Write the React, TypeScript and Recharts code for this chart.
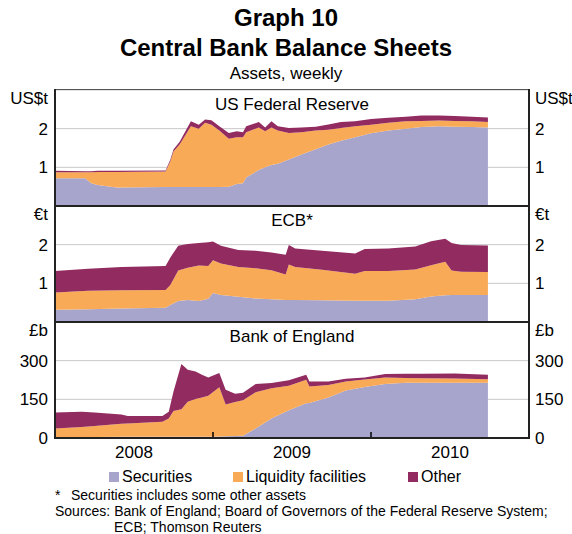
import { Area, AreaChart, CartesianGrid, XAxis, YAxis } from "recharts";

// dates as decimal years
const usDates = [
  2008.0, 2008.19, 2008.23, 2008.27, 2008.39, 2008.7, 2008.73, 2008.75, 2008.79,
  2008.86, 2008.91, 2008.95, 2008.99, 2009.04, 2009.1, 2009.15, 2009.19, 2009.21,
  2009.29, 2009.33, 2009.37, 2009.41, 2009.48, 2009.56, 2009.65, 2009.73, 2009.81,
  2009.9, 2010.0, 2010.11, 2010.22, 2010.32, 2010.43, 2010.53, 2010.64, 2010.74,
];
const usSecurities = [
  0.72, 0.72, 0.59, 0.54, 0.48, 0.49, 0.49, 0.49, 0.49, 0.49, 0.49, 0.49, 0.49,
  0.49, 0.5, 0.57, 0.59, 0.74, 0.93, 1.0, 1.06, 1.09, 1.2, 1.33, 1.47, 1.59, 1.69,
  1.78, 1.88, 1.95, 2.0, 2.04, 2.06, 2.05, 2.04, 2.03,
];
const usLiquidity = [
  0.15, 0.15, 0.28, 0.34, 0.4, 0.4, 0.67, 0.92, 1.11, 1.57, 1.51, 1.66, 1.61, 1.46,
  1.24, 1.21, 1.19, 1.17, 1.1, 0.93, 0.97, 0.86, 0.69, 0.58, 0.48, 0.38, 0.33, 0.28,
  0.22, 0.2, 0.19, 0.16, 0.15, 0.15, 0.15, 0.14,
];
const usOther = [
  0.04, 0.03, 0.03, 0.03, 0.03, 0.03, 0.04, 0.05, 0.07, 0.13, 0.1, 0.09, 0.12, 0.11,
  0.15, 0.15, 0.13, 0.15, 0.14, 0.1, 0.16, 0.11, 0.13, 0.12, 0.1, 0.14, 0.15, 0.13,
  0.15, 0.13, 0.12, 0.14, 0.13, 0.13, 0.12, 0.12,
];

const ecbDates = [
  2008.0, 2008.21, 2008.42, 2008.7, 2008.73, 2008.78, 2008.84, 2008.91, 2008.97,
  2009.0, 2009.05, 2009.16, 2009.27, 2009.37, 2009.46, 2009.48, 2009.52, 2009.69,
  2009.9, 2009.96, 2010.11, 2010.28, 2010.38, 2010.47, 2010.51, 2010.57, 2010.74,
];
const ecbSecurities = [
  0.32, 0.33, 0.35, 0.37, 0.44, 0.54, 0.57, 0.54, 0.6, 0.75, 0.7, 0.65, 0.61, 0.59,
  0.57, 0.57, 0.57, 0.56, 0.55, 0.55, 0.55, 0.59, 0.66, 0.69, 0.7, 0.7, 0.7,
];
const ecbLiquidity = [
  0.44, 0.48, 0.47, 0.46, 0.52, 0.79, 0.83, 0.92, 0.85, 0.85, 0.81, 0.77, 0.78, 0.75,
  0.66, 0.92, 0.85, 0.79, 0.7, 0.77, 0.77, 0.77, 0.81, 0.87, 0.63, 0.6, 0.59,
];
const ecbOther = [
  0.56, 0.57, 0.6, 0.62, 0.71, 0.64, 0.62, 0.58, 0.61, 0.48, 0.46, 0.44, 0.45, 0.46,
  0.51, 0.5, 0.48, 0.49, 0.52, 0.57, 0.58, 0.59, 0.62, 0.59, 0.71, 0.69, 0.69,
];

const boeDates = [
  2008.0, 2008.17, 2008.25, 2008.42, 2008.46, 2008.68, 2008.72, 2008.75, 2008.8,
  2008.84, 2008.89, 2008.93, 2008.97, 2009.04, 2009.08, 2009.14, 2009.19, 2009.27,
  2009.37, 2009.48, 2009.59, 2009.61, 2009.73, 2009.84, 2009.96, 2010.09, 2010.22,
  2010.32, 2010.53, 2010.74,
];
const boeSecurities = [
  4, 4, 4, 5, 5, 5, 5, 5, 5, 5, 5, 5, 5, 6, 7, 8, 9, 37, 76, 108, 135, 136, 157, 184,
  198, 209, 214, 214, 214, 214,
];
const boeLiquidity = [
  33, 39, 43, 50, 51, 58, 71, 100, 107, 136, 146, 152, 159, 191, 123, 132, 137, 140,
  117, 95, 91, 64, 49, 35, 29, 26, 19, 18, 17, 14,
];
const boeOther = [
  62, 59, 52, 36, 29, 22, 26, 75, 175, 124, 107, 88, 71, 55, 57, 32, 30, 32, 20, 21,
  19, 19, 13, 11, 8, 13, 16, 17, 19, 17,
];

const yearLabels = ["2008", "2009", "2010"];

const COLORS = {
  securities: "#a8a5cd",
  liquidity: "#f8aa57",
  other: "#922b5f",
};
const FONT = "Arial, 'Liberation Sans', sans-serif";

const build = (dates: number[], s: number[], l: number[], o: number[]) =>
  dates.map((t, i) => ({ t, securities: s[i], liquidity: l[i], other: o[i] }));

const usData = build(usDates, usSecurities, usLiquidity, usOther);
const ecbData = build(ecbDates, ecbSecurities, ecbLiquidity, ecbOther);
const boeData = build(boeDates, boeSecurities, boeLiquidity, boeOther);

const makeYTick = (unit: string, top: number) => (p: any) => {
  const v = p.payload.value;
  const isUnit = v === top;
  return (
    <text
      x={p.x}
      y={isUnit ? p.y + 8 : p.y}
      dy="0.355em"
      textAnchor={p.textAnchor}
      fontSize={17}
      fontFamily={FONT}
      fill="#000"
    >
      {isUnit ? unit : v}
    </text>
  );
};

const XTick = (p: any) => {
  const v = p.payload.value;
  if (Number.isInteger(v)) {
    return <line x1={p.x} x2={p.x} y1={p.y} y2={p.y - 6} stroke="#000" strokeWidth={1.5} />;
  }
  return (
    <text x={p.x} y={p.y + 14} dy="0.355em" textAnchor="middle" fontSize={17} fontFamily={FONT} fill="#000">
      {yearLabels[Math.floor(v) - 2008]}
    </text>
  );
};

type PanelProps = {
  data: any[];
  top: number;
  max: number;
  ticks: number[];
  unit: string;
  showX?: boolean;
};

function Panel({ data, top, max, ticks, unit, showX }: PanelProps) {
  const h = 10 + 116 + (showX ? 24 : 0);
  const tick = makeYTick(unit, max);
  return (
    <div style={{ position: "absolute", left: 0, top: top - 10 }}>
      <AreaChart width={572} height={h} data={data} margin={{ top: 10, right: 0, bottom: 0, left: 0 }}>
        <CartesianGrid yAxisId="l" vertical={false} stroke="#c8c8c8" />
        <XAxis
          dataKey="t"
          type="number"
          domain={[2008, 2011]}
          hide={!showX}
          ticks={[2008.5, 2009, 2009.5, 2010, 2010.5]}
          interval={0}
          tickSize={0}
          tickMargin={0}
          axisLine={false}
          tickLine={false}
          tick={XTick}
          height={24}
        />
        <YAxis
          yAxisId="l"
          domain={[0, max]}
          ticks={ticks}
          interval={0}
          width={55}
          axisLine={false}
          tickLine={false}
          tickSize={0}
          tickMargin={7}
          tick={tick}
        />
        <YAxis
          yAxisId="r"
          orientation="right"
          domain={[0, max]}
          ticks={ticks}
          interval={0}
          width={43}
          axisLine={false}
          tickLine={false}
          tickSize={0}
          tickMargin={6}
          tick={tick}
        />
        <Area yAxisId="l" type="linear" dataKey="securities" stackId="a" fill={COLORS.securities} fillOpacity={1} stroke="none" isAnimationActive={false} />
        <Area yAxisId="l" type="linear" dataKey="liquidity" stackId="a" fill={COLORS.liquidity} fillOpacity={1} stroke="none" isAnimationActive={false} />
        <Area yAxisId="l" type="linear" dataKey="other" stackId="a" fill={COLORS.other} fillOpacity={1} stroke="none" isAnimationActive={false} />
        {/* invisible, only so the right-hand axis gets its ticks */}
        <Area yAxisId="r" type="linear" dataKey="securities" fill="none" stroke="none" legendType="none" isAnimationActive={false} />
      </AreaChart>
    </div>
  );
}

const centered = (top: number, size: number, text: string, bold = false, cx = 286) => (
  <div
    style={{
      position: "absolute",
      left: cx - 286,
      top,
      width: 572,
      textAlign: "center",
      fontSize: size,
      lineHeight: 1,
      fontWeight: bold ? "bold" : "normal",
      whiteSpace: "nowrap",
    }}
  >
    {text}
  </div>
);

const legendItems = [
  { label: "Securities", color: COLORS.securities, x: 109 },
  { label: "Liquidity facilities", color: COLORS.liquidity, x: 233 },
  { label: "Other", color: COLORS.other, x: 408 },
];

export default function App() {
  return (
    <div
      style={{
        position: "absolute",
        left: 0,
        top: 0,
        width: 572,
        height: 534,
        overflow: "hidden",
        fontFamily: FONT,
        color: "#000",
        background: "#fff",
      }}
    >
      {centered(6, 24, "Graph 10", true)}
      {centered(36, 24, "Central Bank Balance Sheets", true)}
      {centered(65, 17, "Assets, weekly")}

      <Panel data={usData} top={90} max={3} ticks={[1, 2, 3]} unit="US$t" />
      <Panel data={ecbData} top={206} max={3} ticks={[1, 2, 3]} unit="€t" />
      <Panel data={boeData} top={322} max={450} ticks={[0, 150, 300, 450]} unit="£b" showX />

      {/* frame */}
      <div style={{ position: "absolute", left: 54, top: 89, width: 476, height: 1, background: "#555" }} />
      <div style={{ position: "absolute", left: 54, top: 89, width: 2, height: 350, background: "#222" }} />
      <div style={{ position: "absolute", left: 528, top: 89, width: 2, height: 350, background: "#222" }} />
      <div style={{ position: "absolute", left: 54, top: 205, width: 476, height: 2, background: "#222" }} />
      <div style={{ position: "absolute", left: 54, top: 321, width: 476, height: 2, background: "#222" }} />
      <div style={{ position: "absolute", left: 54, top: 437, width: 476, height: 2, background: "#222" }} />

      {centered(96, 17, "US Federal Reserve", false, 292)}
      {centered(212, 17, "ECB*", false, 292)}
      {centered(328, 17, "Bank of England", false, 292)}

      {legendItems.map((it) => (
        <div key={it.label} style={{ position: "absolute", left: it.x, top: 469, display: "flex", alignItems: "center", fontSize: 16, lineHeight: "16px" }}>
          <span style={{ display: "inline-block", width: 10, height: 10, background: it.color, marginRight: 3 }} />
          <span>{it.label}</span>
        </div>
      ))}

      <div style={{ position: "absolute", left: 55, top: 487, fontSize: 14, lineHeight: "16px", whiteSpace: "nowrap" }}>
        <div>
          <span style={{ display: "inline-block", width: 16 }}>*</span>Securities includes some other assets
        </div>
        <div>Sources: Bank of England; Board of Governors of the Federal Reserve System;</div>
        <div style={{ paddingLeft: 59 }}>ECB; Thomson Reuters</div>
      </div>
    </div>
  );
}
